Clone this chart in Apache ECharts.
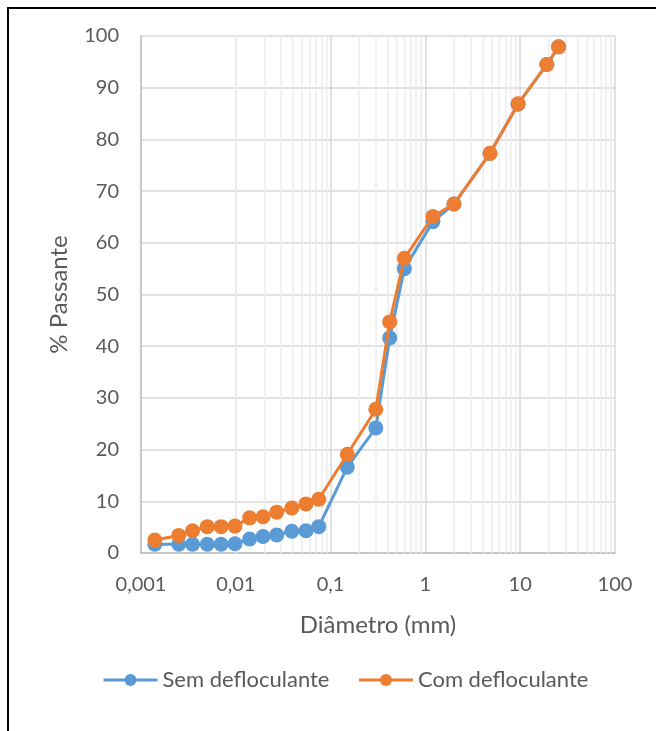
<!DOCTYPE html>
<html>
<head>
<meta charset="utf-8">
<script src="https://cdn.jsdelivr.net/npm/echarts@6/dist/echarts.min.js"></script>
<style>
  html, body { margin: 0; padding: 0; overflow: hidden; background: #fff; }
  #chart { position: absolute; left: 0; top: 0; width: 656px; height: 731px; }
  #frame { position: absolute; left: 7px; top: 7px; width: 700px; height: 800px;
           border-left: 2px solid #000; border-top: 2px solid #000; pointer-events: none; }
</style>
</head>
<body>
<div id="chart"></div>
<div id="frame"></div>
<script>
// Diâmetro (mm)
const diametros = [0.0014, 0.0025, 0.0035, 0.005, 0.007, 0.0098, 0.014, 0.0194, 0.027, 0.039, 0.055, 0.075,
                   0.15, 0.3, 0.42, 0.6, 1.2, 2.0, 4.8, 9.5, 19.1, 25.4];
const semDefloculante = [1.7, 1.7, 1.7, 1.7, 1.7, 1.8, 2.7, 3.2, 3.5, 4.2, 4.3, 5.1,
                         16.6, 24.2, 41.6, 55.0, 64.1, 67.5, 77.3, 86.8, 94.5, 97.9];
const comDefloculante = [2.5, 3.4, 4.3, 5.1, 5.1, 5.2, 6.8, 7.0, 7.9, 8.7, 9.5, 10.4,
                         19.1, 27.8, 44.7, 57.0, 65.1, 67.5, 77.3, 86.9, 94.5, 97.9];
const nomesSeries = ["Sem defloculante", "Com defloculante"];

const chart = echarts.init(document.getElementById("chart"));

// linhas secundárias da escala logarítmica (2..9 de cada década)
const linhasMenores = [];
for (let p = -3; p < 2; p++) {
    for (let k = 2; k <= 9; k++) {
        linhasMenores.push({ xAxis: Number((k * Math.pow(10, p)).toPrecision(6)) });
    }
}

const cor = "#595959";
const fonte = "Lato";

const option = {
    animation: false,
    grid: { left: 141, right: 41, top: 36, bottom: 178 },
    xAxis: {
        type: "log",
        logBase: 10,
        min: 0.001,
        max: 100,
        name: "Diâmetro (mm)",
        nameLocation: "middle",
        nameGap: 60,
        nameTextStyle: { color: cor, fontFamily: fonte, fontSize: 24 },
        axisLine: { show: true, onZero: false, lineStyle: { color: "#bfbfbf", width: 1.5 } },
        axisTick: { show: false },
        axisLabel: {
            margin: 22, color: cor, fontFamily: fonte, fontSize: 20,
            formatter: v => String(Number(v.toPrecision(6))).replace(".", ",")
        },
        splitLine: { show: true, lineStyle: { color: "#d9d9d9", width: 1.5 } }
    },
    yAxis: {
        type: "value",
        min: 0,
        max: 100,
        interval: 10,
        name: "% Passante",
        nameLocation: "middle",
        nameGap: 70,
        nameTextStyle: { color: cor, fontFamily: fonte, fontSize: 24 },
        axisLine: { show: true, lineStyle: { color: "#bfbfbf", width: 1.5 } },
        axisTick: { show: false },
        axisLabel: { margin: 22, color: cor, fontFamily: fonte, fontSize: 20 },
        splitLine: { show: true, lineStyle: { color: "#d9d9d9", width: 1.5 } }
    },
    legend: {
        data: nomesSeries,
        top: 664,
        left: 97,
        itemWidth: 54,
        itemHeight: 15,
        itemGap: 28,
        lineStyle: { width: 3 },
        textStyle: { color: cor, fontFamily: fonte, fontSize: 22 }
    },
    series: [
        {
            name: "grade",
            type: "line",
            data: [],
            silent: true,
            z: 1,
            markLine: {
                z: 1,
                silent: true,
                symbol: "none",
                label: { show: false },
                lineStyle: { color: "#ececec", width: 1.5, type: "solid" },
                data: linhasMenores
            }
        },
        {
            name: nomesSeries[0],
            type: "line",
            data: diametros.map((d, i) => [d, semDefloculante[i]]),
            symbol: "circle",
            symbolSize: 15,
            z: 3,
            lineStyle: { color: "#5b9bd5", width: 3 },
            itemStyle: { color: "#5b9bd5" }
        },
        {
            name: nomesSeries[1],
            type: "line",
            data: diametros.map((d, i) => [d, comDefloculante[i]]),
            symbol: "circle",
            symbolSize: 15,
            z: 4,
            lineStyle: { color: "#ed7d31", width: 3 },
            itemStyle: { color: "#ed7d31" }
        }
    ]
};

chart.setOption(option);
</script>
</body>
</html>
